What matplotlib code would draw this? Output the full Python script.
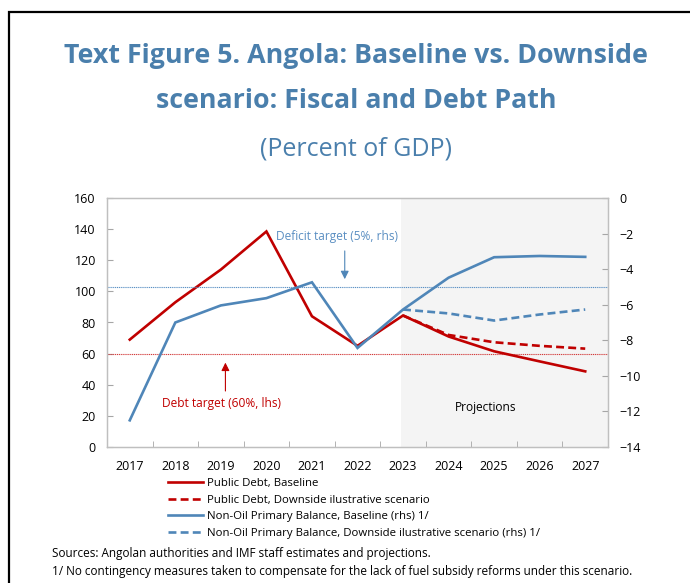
import matplotlib
matplotlib.use("Agg")
import matplotlib.pyplot as plt
from matplotlib.patches import Rectangle

# Data (percent of GDP)
years = ["2017", "2018", "2019", "2020", "2021", "2022", "2023", "2024", "2025", "2026", "2027"]
debt_baseline = [69.0, 93.0, 114.0, 138.5, 84.0, 65.0, 84.5, 71.0, 61.5, 55.0, 48.6]
debt_downside = [None, None, None, None, None, None, 84.5, 72.0, 67.3, 65.0, 63.2]
nopb_baseline = [-12.5, -7.0, -6.04, -5.63, -4.74, -8.43, -6.27, -4.48, -3.33, -3.26, -3.31]
nopb_downside = [None, None, None, None, None, None, -6.27, -6.49, -6.89, -6.55, -6.27]
debt_target = 60.0
deficit_target = -5.0
projection_start = "2023"

RED = "#c00000"
BLUE = "#4f86b8"
TITLE_BLUE = "#4a7fac"
LABEL_BLUE = "#5b8fc2"

plt.rcParams["font.family"] = ["Open Sans", "DejaVu Sans"]

W, H = 690, 583
fig = plt.figure(figsize=(W / 100, H / 100), dpi=100)

def fx(px):
    return px / W

def fy(py):
    return 1 - py / H

# Frame around the figure block
fig.patches.append(Rectangle((fx(9), -0.1), 1.2, fy(12) + 0.1, transform=fig.transFigure,
                             fill=False, edgecolor="black", linewidth=1.6))

# Titles
fig.text(fx(356), fy(56), "Text Figure 5. Angola: Baseline vs. Downside", ha="center", va="center",
         fontsize=19.3, fontweight="bold", color=TITLE_BLUE)
fig.text(fx(356), fy(101), "scenario: Fiscal and Debt Path", ha="center", va="center",
         fontsize=19.3, fontweight="bold", color=TITLE_BLUE)
fig.text(fx(356), fy(149), "(Percent of GDP)", ha="center", va="center",
         fontsize=18, color=TITLE_BLUE)

ax = fig.add_axes([fx(107), fy(447), fx(608) - fx(107), fy(198) - fy(447)])
ax2 = ax.twinx()

x = list(range(len(years)))
ps = years.index(projection_start)

ax.axvspan(ps - 0.05, len(years) - 0.5, color="#f4f4f4", zorder=0, linewidth=0)

def pts(vals):
    xs = [i for i, v in zip(x, vals) if v is not None]
    ys = [v for v in vals if v is not None]
    return xs, ys

lw = 1.9
h1, = ax.plot(*pts(debt_baseline), color=RED, lw=lw, zorder=3, solid_joinstyle="miter")
h2, = ax.plot(*pts(debt_downside), color=RED, lw=lw, ls=(0, (3, 1.6)), zorder=3)
h3, = ax2.plot(*pts(nopb_baseline), color=BLUE, lw=lw, zorder=3, solid_joinstyle="miter")
h4, = ax2.plot(*pts(nopb_downside), color=BLUE, lw=lw, ls=(0, (3, 1.6)), zorder=3)

ax.axhline(debt_target, color="#d23a3a", lw=0.8, ls=(0, (1, 0.7)), zorder=2)
ax2.axhline(deficit_target, color="#5a90c4", lw=0.8, ls=(0, (1, 0.7)), zorder=2)

ax.set_xlim(-0.5, len(years) - 0.5)
ax.set_ylim(0, 160)
ax2.set_ylim(-14, 0)
ax.set_yticks(range(0, 161, 20))
ax2.set_yticks(range(-14, 1, 2))

ax.set_xticks(x)
ax.set_xticklabels(years)
ax.set_xticks([i + 0.5 for i in x[:-1]], minor=True)
ax.tick_params(axis="x", which="major", length=0, pad=9, labelsize=9, colors="#000000")
ax.tick_params(axis="x", which="minor", length=4, direction="in", color="#a6a6a6")
ax.tick_params(axis="y", length=4, direction="in", color="#a6a6a6", labelsize=9, pad=8)
ax2.tick_params(axis="y", length=4, direction="in", color="#a6a6a6", labelsize=9, pad=8)
for a in (ax, ax2):
    for s in a.spines.values():
        s.set_color("#bfbfbf")
        s.set_linewidth(0.9)

# Annotations
ax2.annotate("", xy=(4.72, -4.72), xytext=(4.72, -2.82),
             arrowprops=dict(arrowstyle="-|>", color=BLUE, lw=0.8, mutation_scale=12))
ax2.text(4.55, -2.15, "Deficit target (5%, rhs)", ha="center", va="center", fontsize=8.6, color=LABEL_BLUE)
ax.annotate("", xy=(2.1, 56.0), xytext=(2.1, 34.2),
            arrowprops=dict(arrowstyle="-|>", color=RED, lw=0.8, mutation_scale=12))
ax.text(2.02, 27.7, "Debt target (60%, lhs)", ha="center", va="center", fontsize=8.6, color=RED)
ax.text(7.82, 25.2, "Projections", ha="center", va="center", fontsize=8.6, color="#000000")

labels = ["Public Debt, Baseline",
          "Public Debt, Downside ilustrative scenario",
          "Non-Oil Primary Balance, Baseline (rhs) 1/",
          "Non-Oil Primary Balance, Downside ilustrative scenario (rhs) 1/"]
fig.legend([h1, h2, h3, h4], labels, loc="upper left", bbox_to_anchor=(fx(168), fy(478)),
           frameon=False, fontsize=8.2, handlelength=3.05, handletextpad=0.35,
           labelspacing=0.5, borderaxespad=0, borderpad=0)

fig.text(fx(52), fy(553), "Sources: Angolan authorities and IMF staff estimates and projections.",
         ha="left", va="center", fontsize=8.5)
fig.text(fx(52), fy(571), "1/ No contingency measures taken to compensate for the lack of fuel subsidy reforms under this scenario.",
         ha="left", va="center", fontsize=8.5)

fig.savefig("out.png", dpi=100)
